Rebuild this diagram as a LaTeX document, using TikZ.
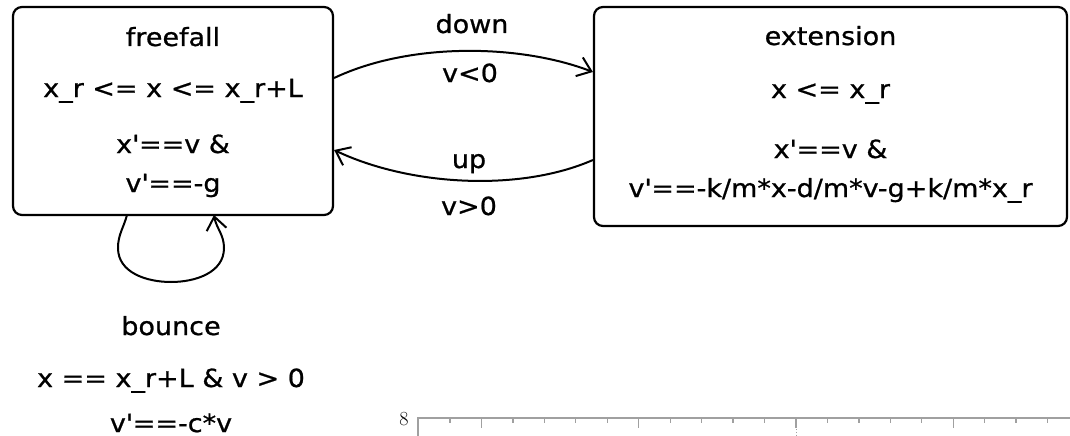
\documentclass[tikz,border=0pt]{standalone}
\usepackage{fontspec}
\setmainfont[FakeStretch=1.08, FakeBold=0.8]{DejaVu Sans}
\newfontfamily\lmfont{Latin Modern Roman}
\usetikzlibrary{arrows.meta}
\definecolor{axisgray}{HTML}{A0A0A0}
\newcommand{\q}{\textquotesingle}
\tikzset{
  statebox/.style={draw, line width=2.2pt, rounded corners=9pt},
  txt/.style={anchor=base, inner sep=0pt, font=\fontsize{25}{28}\selectfont},
  edge/.style={line width=2pt, -{Straight Barb[length=13pt,width=20pt,line width=2pt]}},
  axisline/.style={draw=axisgray, line width=1.3pt},
  tick/.style={draw=axisgray, line width=1.3pt},
}
\begin{document}
\begin{tikzpicture}[x=1pt,y=-1pt]
\useasboundingbox (0,0) rectangle (1070,436);
% states
\node[statebox, minimum width=320pt, minimum height=208pt] (ff) at (173,111) {};
\node[statebox, minimum width=473pt, minimum height=219pt] (ext) at (830.5,116.5) {};
% freefall texts
\node[txt] (ffname) at (173,46) {freefall};
\node[txt] (ffinv) at (173,97) {x\_r <= x <= x\_r+L};
\node[txt] (ffflow1) at (173,153) {x\q==v \&};
\node[txt] (ffflow2) at (173,192) {v\q==-g};
% extension texts
\node[txt] (extname) at (830.5,45) {extension};
\node[txt] (extinv) at (830.5,98) {x <= x\_r};
\node[txt] (extflow1) at (830.5,158) {x\q==v \&};
\node[txt] (extflow2) at (830.5,197) {v\q==-k/m*x-d/m*v-g+k/m*x\_r};
% transitions
\draw[edge] ([yshift=33pt]ff.east) .. controls (410,42) and (520,44) .. ([yshift=44.5pt]ext.west);
\node[txt] (downlbl) at (472,33) {down};
\node[txt] (downg) at (470,82) {v<0};
\draw[edge] ([yshift=-43.5pt]ext.west) .. controls (520,192) and (410,186) .. ([yshift=-39pt]ff.east);
\node[txt] (uplbl) at (469,168) {up};
\node[txt] (upg) at (469,215) {v>0};
% self loop
\coordinate (loopa) at (127,215);
\coordinate (loopb) at (214,215);
\draw[edge] (loopa) to[out=-105,in=90] (118,248) to[out=-90,in=180] (171,282) to[out=0,in=-90] (224,248) to[out=90,in=-80] (loopb);
\node[txt] (bname) at (171,335) {bounce};
\node[txt] (bguard) at (171,387) {x == x\_r+L \& v > 0};
\node[txt] (breset) at (171,432) {v\q==-c*v};
% axis fragment
\coordinate (ax0) at (418,418);
\draw[axisline] (418,436) -- (ax0) -- (1070,418);
\foreach \k in {0,...,19} {
  \pgfmathsetmacro{\xx}{450+31.45*\k}
  \pgfmathtruncatemacro{\mj}{mod(\k-1,5)==0 ? 1 : 0}
  \ifnum\mj=1
    \draw[tick] (\xx,418) -- (\xx,428);
  \else
    \draw[tick] (\xx,418) -- (\xx,422.5);
  \fi
}
\draw[draw=axisgray, line width=0.8pt, dotted] (796,429) -- (796,436);
\node[anchor=base, inner sep=0pt, font=\lmfont\fontsize{20}{22}\selectfont] (ylab) at (404,425) {8};
\end{tikzpicture}
\end{document}
